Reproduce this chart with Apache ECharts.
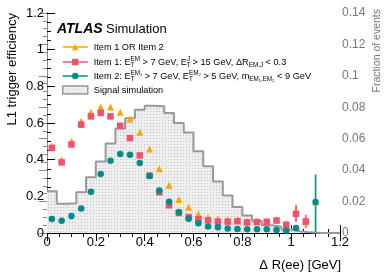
<!DOCTYPE html>
<html><head><meta charset="utf-8">
<script src="https://cdn.jsdelivr.net/npm/echarts@6/dist/echarts.min.js"></script>
<style>html,body{margin:0;padding:0;background:#fff}#c{width:388px;height:278px}</style>
</head><body><div id="c"></div>
<script>
// ---- data ----
const xCenters = [0.02,0.06,0.10,0.14,0.18,0.22,0.26,0.30,0.34,0.38,0.42,0.46,0.50,0.54,0.58,0.62,0.66,0.70,0.74,0.78,0.82,0.86,0.90,0.94,0.98,1.02,1.06,1.10];
const effOr   = [0.475,0.400,0.500,0.609,0.658,0.687,0.687,0.658,0.622,0.549,0.458,0.351,0.260,0.183,0.140,0.104,0.084,0.077,0.072,0.072,0.064,0.064,0.066,0.072,0.050,0.110,0.062,0.169];
const effItem1= [0.464,0.385,0.483,0.591,0.636,0.655,0.636,0.585,0.518,0.423,0.313,0.222,0.151,0.109,0.087,0.075,0.069,0.062,0.062,0.064,0.058,0.060,0.061,0.068,0.045,0.105,0.063,null];
const effItem2= [0.076,0.067,0.093,0.134,0.225,0.322,0.394,0.431,0.427,0.382,0.311,0.232,0.171,0.115,0.078,0.053,0.036,0.031,0.025,0.022,0.021,0.021,0.021,0.016,0.012,0.027,null,0.169];
const errOr   = [0,0,0,0,0,0,0,0,0,0,0,0,0,0,0,0,0,0,0,0,0,0,0,0,0,0.045,0,0];
const errItem1= [0,0,0,0,0,0,0,0,0,0,0,0,0,0,0,0,0,0,0,0,0,0,0,0.008,0.008,0.043,0.036,0];
const errItem2Lo= [0,0,0,0,0,0,0,0,0,0,0,0,0,0,0,0,0,0,0,0,0,0,0,0,0,0.006,0,0.169];
const errItem2Hi= [0,0,0,0,0,0,0,0,0,0,0,0,0,0,0,0,0,0,0,0,0,0,0,0,0,0.006,0,0.150];
const binWidth = 0.04;
const signalFrac = [0.0265,0.0186,0.0190,0.0260,0.0355,0.0455,0.0570,0.0665,0.0730,0.0785,0.0810,0.0806,0.0764,0.0700,0.0640,0.0520,0.0424,0.0328,0.0239,0.0165,0.0112,0.0076,0.0050,0.0040,0.0022,0.0010,0.0004,0,0,0];
const xTickLabels = ['0','0.2','0.4','0.6','0.8','1','1.2'];
const yTickLabels = ['0','0.2','0.4','0.6','0.8','1','1.2'];
const y2TickLabels = ['0','0.02','0.04','0.06','0.08','0.1','0.12','0.14'];
const legendNames = ['Item 1 OR Item 2','Item 1','Item 2','Signal simulation'];
const legendTexts = [
  'Item 1 OR Item 2',
  'Item 1: E{t0|T}{s|EM} > 7 GeV, E{t0|T}{s|J} > 15 GeV, ΔR{b|EM,J} < 0.3',
  'Item 2: E{t0|T}{s|EM₁} > 7 GeV, E{t0|T}{s|EM₂} > 5 GeV, m{b|EM₁,EM₂} < 9 GeV',
  'Signal simulation'
];
// ---- styling ----
const FONT = 'Liberation Sans, Arial, Helvetica, sans-serif';
const cOr = '#ffa500', cP = '#f2506e', cT = '#008b8b';
const pc = document.createElement('canvas'); pc.width = 3; pc.height = 3;
const g = pc.getContext('2d'); g.fillStyle = '#eeeeee'; g.fillRect(0,0,3,3); g.fillStyle = '#c2c2c2'; g.fillRect(0,0,1,1);
const pattern = {image: pc, repeat: 'repeat'};

function pts(arr){ return xCenters.map((x,i)=>[x, arr[i]]); }
function errData(vals, lo, hi){
  const out = [];
  xCenters.forEach((x,i)=>{ if (vals[i]!=null && (lo[i]>0 || hi[i]>0)) out.push([x, Math.max(0, vals[i]-lo[i]), vals[i]+hi[i]]); });
  return out;
}
function errSeries(data, color){
  return {type:'custom', xAxisIndex:0, yAxisIndex:0, data: data, silent:true,
    renderItem: function(params, api){
      const a = api.coord([api.value(0), api.value(1)]);
      const b = api.coord([api.value(0), api.value(2)]);
      return {type:'line', shape:{x1:a[0], y1:a[1], x2:b[0], y2:b[1]}, style:{stroke: color, lineWidth: 1.6}};
    }};
}
const histData = signalFrac.map((v,i)=>[+(i*binWidth).toFixed(4), v]);
histData.push([+(signalFrac.length*binWidth).toFixed(4), 0]);

const rich = {
  t0:{fontSize:6.3, width:0.01, verticalAlign:'bottom', lineHeight:12, fontFamily:FONT, color:'#000'},
  s:{fontSize:6.3, verticalAlign:'top', lineHeight:12, fontFamily:FONT, color:'#000'},
  b:{fontSize:6.3, verticalAlign:'bottom', lineHeight:12, fontFamily:FONT, color:'#000'}
};
const legendTops = [41, 56, 70, 84];
function mkLegend(i, extra){
  return Object.assign({
    data:[legendNames[i]], left: 62, top: legendTops[i], orient:'vertical',
    itemWidth: 25, itemHeight: 8, padding: 0, selectedMode: false,
    formatter: function(){ return legendTexts[i]; },
    textStyle:{fontSize:9.2, fontFamily:FONT, color:'#000', lineHeight:12, rich: rich, padding:[0,0,0,1]},
    lineStyle:{width:1.5, opacity:1}
  }, extra||{});
}
const axisTickStyle = {show:true, inside:true, length:8, lineStyle:{color:'#000', width:1}};
const minorTickStyle = {show:true, splitNumber:4, length:4, lineStyle:{color:'#000', width:1}};

const chart = echarts.init(document.getElementById('c'), null, {renderer:'canvas'});
chart.setOption({
  animation:false,
  grid:{left:47, right:48, top:13, bottom:45},
  xAxis:[
    {type:'value', min:0, max:1.2, interval:0.2, position:'bottom',
     axisLine:{lineStyle:{color:'#000', width:1}}, axisTick:axisTickStyle, minorTick:minorTickStyle,
     splitLine:{show:false},
     axisLabel:{margin:3, fontSize:13, fontFamily:FONT, color:'#000', formatter:(v)=>xTickLabels[Math.round(v/0.2)]}},
    {type:'value', min:0, max:1.2, interval:0.2, position:'top',
     axisLine:{lineStyle:{color:'#000', width:1}}, axisTick:axisTickStyle, minorTick:minorTickStyle,
     splitLine:{show:false}, axisLabel:{show:false}}
  ],
  yAxis:[
    {type:'value', min:0, max:1.2, interval:0.2, position:'left',
     axisLine:{show:true, lineStyle:{color:'#000', width:1}}, axisTick:axisTickStyle, minorTick:minorTickStyle,
     splitLine:{show:false},
     axisLabel:{margin:3, fontSize:13, fontFamily:FONT, color:'#000', formatter:(v)=>yTickLabels[Math.round(v/0.2)]}},
    {type:'value', min:0, max:0.14, interval:0.02, position:'right',
     axisLine:{show:true, lineStyle:{color:'#888', width:1}},
     axisTick:{show:true, inside:true, length:8, lineStyle:{color:'#888', width:1}},
     minorTick:{show:true, splitNumber:4, length:4, lineStyle:{color:'#888', width:1}},
     splitLine:{show:false},
     axisLabel:{margin:2, fontSize:12, fontFamily:FONT, color:'#777', formatter:(v)=>y2TickLabels[Math.round(v/0.02)]}}
  ],
  legend:[
    mkLegend(0), mkLegend(1), mkLegend(2),
    mkLegend(3, {data:[{name:legendNames[3], icon:'rect', itemStyle:{color:pattern, borderColor:'#999', borderWidth:1.5}}]})
  ],
  graphic:[
    {type:'text', x:57, y:29.5, style:{text:'{a|ATLAS} {b|Simulation}', verticalAlign:'middle',
      rich:{a:{font:'italic bold 14px '+FONT, fill:'#000'}, b:{font:'13px '+FONT, fill:'#000'}}}},
    {type:'text', x:12, y:13, rotation:Math.PI/2, style:{text:'L1 trigger efficiency', font:'13px '+FONT, fill:'#000', align:'right', verticalAlign:'middle'}},
    {type:'text', x:377, y:9, rotation:Math.PI/2, style:{text:'Fraction of events', font:'10.5px '+FONT, fill:'#777', align:'right', verticalAlign:'middle'}},
    {type:'text', x:341, y:265, style:{text:'Δ R(ee) [GeV]', font:'13px '+FONT, fill:'#000', align:'right', verticalAlign:'middle'}}
  ],
  series:[
    {name:legendNames[3], type:'line', step:'end', xAxisIndex:0, yAxisIndex:1, data:histData, showSymbol:false, symbol:'none',
     lineStyle:{color:'#999', width:2}, itemStyle:{color:'#999'}, areaStyle:{color:pattern, opacity:1}, silent:true},
    errSeries(errData(effOr, errOr, errOr), cOr),
    {name:legendNames[0], type:'line', xAxisIndex:0, yAxisIndex:0, data:pts(effOr), symbol:'triangle', symbolSize:7,
     itemStyle:{color:cOr}, lineStyle:{width:0, color:cOr}, connectNulls:false},
    errSeries(errData(effItem1, errItem1, errItem1), cP),
    {name:legendNames[1], type:'line', xAxisIndex:0, yAxisIndex:0, data:pts(effItem1), symbol:'rect', symbolSize:6.5,
     itemStyle:{color:cP}, lineStyle:{width:0, color:cP}},
    errSeries(errData(effItem2, errItem2Lo, errItem2Hi), cT),
    {name:legendNames[2], type:'line', xAxisIndex:0, yAxisIndex:0, data:pts(effItem2), symbol:'circle', symbolSize:6.5,
     itemStyle:{color:cT}, lineStyle:{width:0, color:cT}}
  ]
});
</script></body></html>
